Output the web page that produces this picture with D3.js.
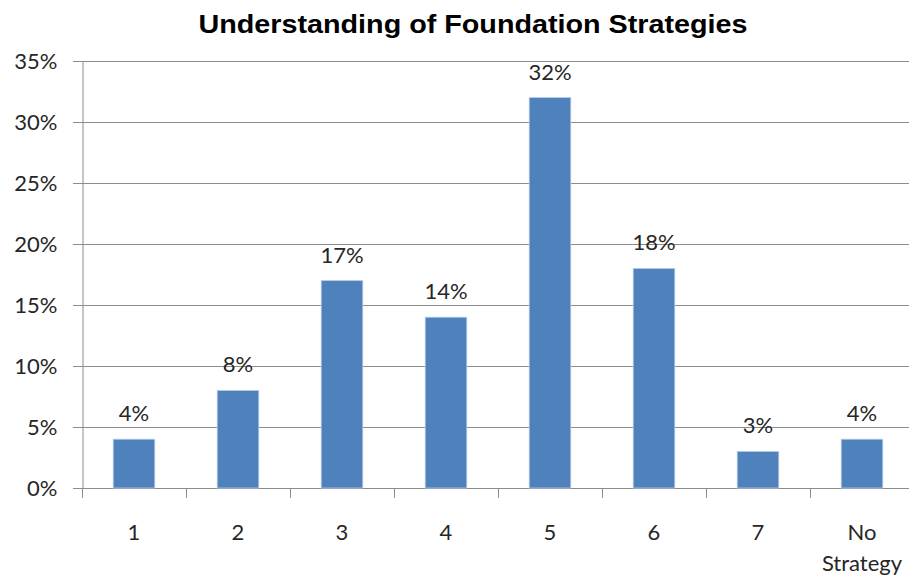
<!DOCTYPE html>
<html>
<head>
<meta charset="utf-8">
<script src="https://cdn.jsdelivr.net/npm/d3@7/dist/d3.min.js"></script>
<style>
  html, body { margin: 0; padding: 0; background: #fff; }
  svg { display: block; }
</style>
</head>
<body>
<svg id="chart" width="909" height="575"></svg>
<script>
// Survey responses: understanding of foundation strategies
const categories = ["1", "2", "3", "4", "5", "6", "7", "No Strategy"];
const shares = [4, 8, 17, 14, 32, 18, 3, 4];          // percent of respondents
const yTicks = [0, 5, 10, 15, 20, 25, 30, 35];
const titleText = "Understanding of Foundation Strategies";

const svg = d3.select("#chart");
const margin = { left: 82, top: 61, bottom: 87 };
const plotRight = 914;             // plot area runs past the right edge
const height = 575;

const bandStep = (plotRight - margin.left) / categories.length;
const xGroup = d3.scaleBand().domain(categories).range([margin.left, plotRight]);

const y = d3.scaleLinear()
  .domain([0, 35])
  .range([height - margin.bottom, margin.top]);

const labelFont = "Lato, 'Open Sans', sans-serif";
const labelSize = 22;
const textColor = "#262626";
const gridColor = "#8c8c8c";

// horizontal gridlines (with short tick stubs left of the axis)
svg.append("g")
  .selectAll("line")
  .data(yTicks)
  .join("line")
  .attr("x1", margin.left - 9)
  .attr("x2", 909)
  .attr("y1", d => Math.round(y(d)) + 0.5)
  .attr("y2", d => Math.round(y(d)) + 0.5)
  .attr("stroke", gridColor)
  .attr("stroke-width", 1);

// y axis
const yAxis = d3.axisLeft(y)
  .tickValues(yTicks)
  .tickFormat(d => d + "%")
  .tickSize(9)
  .tickPadding(16);
const gy = svg.append("g")
  .attr("transform", `translate(${margin.left + 0.5},0)`)
  .call(yAxis);
gy.select(".domain").attr("stroke", gridColor);
gy.selectAll(".tick line").remove();
gy.selectAll(".tick text")
  .attr("x", -25)
  .attr("font-family", labelFont)
  .attr("font-size", labelSize)
  .attr("fill", textColor);
gy.selectAll(".tick").attr("transform", d => `translate(0,${Math.round(y(d)) + 0.5})`);

// x axis tick marks at band boundaries
const boundaries = categories.map(c => xGroup(c)).concat([plotRight]);
svg.append("g")
  .selectAll("line")
  .data(boundaries)
  .join("line")
  .attr("x1", d => Math.round(d) + 0.5)
  .attr("x2", d => Math.round(d) + 0.5)
  .attr("y1", Math.round(y(0)))
  .attr("y2", Math.round(y(0)) + 10)
  .attr("stroke", gridColor);

// bars
const barW = bandStep / 2.5;
svg.append("g")
  .selectAll("rect")
  .data(shares)
  .join("rect")
  .attr("x", (d, i) => xGroup(categories[i]) + (bandStep - barW) / 2)
  .attr("width", barW)
  .attr("y", d => y(d))
  .attr("height", d => y(0) - y(d))
  .attr("fill", "#4f81bd")
  .attr("stroke", "#b9cde5")
  .attr("stroke-width", 0.8);

// value labels
svg.append("g")
  .selectAll("text")
  .data(shares)
  .join("text")
  .attr("x", (d, i) => xGroup(categories[i]) + bandStep / 2)
  .attr("y", d => y(d) - 18)
  .attr("text-anchor", "middle")
  .attr("font-family", labelFont)
  .attr("font-size", labelSize)
  .attr("fill", textColor)
  .text(d => d + "%");

// category labels (wrapped onto separate lines)
const xl = svg.append("g")
  .selectAll("text")
  .data(categories)
  .join("text")
  .attr("x", c => xGroup(c) + bandStep / 2)
  .attr("y", 540)
  .attr("text-anchor", "middle")
  .attr("font-family", labelFont)
  .attr("font-size", labelSize)
  .attr("fill", textColor);
xl.each(function(c) {
  const words = c.split(" ");
  const t = d3.select(this);
  words.forEach((w, i) => {
    t.append("tspan")
      .attr("x", xGroup(c) + bandStep / 2)
      .attr("dy", i === 0 ? 0 : 31)
      .text(w);
  });
});

// title
svg.append("text")
  .attr("x", 473)
  .attr("y", 33)
  .attr("text-anchor", "middle")
  .attr("font-family", "'Liberation Sans', Arial, sans-serif")
  .attr("font-weight", "bold")
  .attr("font-size", 25)
  .attr("textLength", 549)
  .attr("lengthAdjust", "spacingAndGlyphs")
  .attr("fill", "#000")
  .text(titleText);
</script>
</body>
</html>
